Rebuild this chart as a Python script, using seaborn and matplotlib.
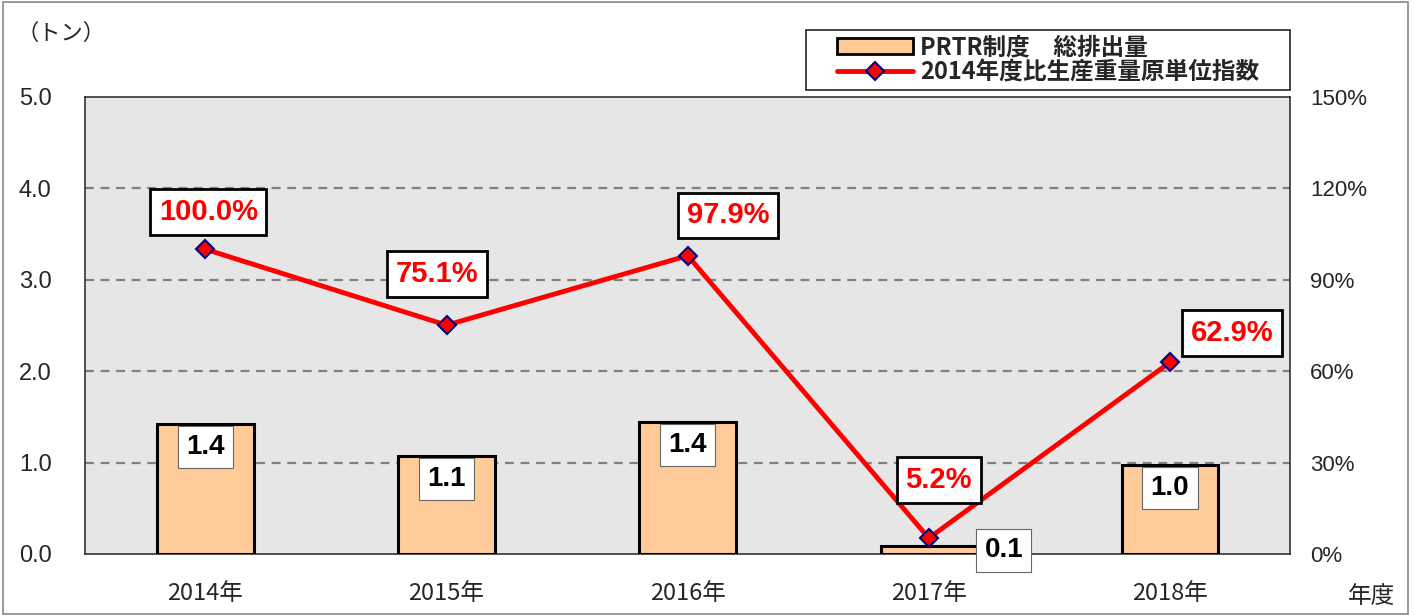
import matplotlib
matplotlib.use("Agg")
import matplotlib.pyplot as plt
import seaborn as sns
import pandas as pd
from matplotlib.patches import Patch, Rectangle
from matplotlib.lines import Line2D

# data
years = ["2014年", "2015年", "2016年", "2017年", "2018年"]
emission = [1.42, 1.07, 1.44, 0.09, 0.97]          # PRTR total emission (t)
emission_labels = ["1.4", "1.1", "1.4", "0.1", "1.0"]
ratio = [100.0, 75.1, 97.9, 5.2, 62.9]              # index vs 2014 (%)
legend_labels = ["PRTR制度　総排出量", "2014年度比生産重量原単位指数"]

df = pd.DataFrame({"year": years, "emission": emission, "ratio": ratio})

sns.set_theme(style="white")
plt.rcParams["font.family"] = ["Liberation Sans", "Noto Sans CJK JP", "DejaVu Sans"]
JP = ["Noto Sans CJK JP", "DejaVu Sans"]
SANS = ["Liberation Sans", "DejaVu Sans"]

fig = plt.figure(figsize=(14.15, 6.15), dpi=100)
ax = fig.add_axes([0.060, 0.0992, 0.852, 0.7432])
ax.set_facecolor("#e6e6e6")

sns.barplot(data=df, x="year", y="emission", ax=ax, color="#ffcc99",
            edgecolor="black", linewidth=2.2, width=0.4, saturation=1, zorder=3)

ax.set_ylim(0, 5)
ax.set_yticks([0, 1, 2, 3, 4, 5])
ax.set_yticklabels([f"{v:.1f}" for v in range(6)], fontsize=17)
ax.set_xlabel("")
ax.set_ylabel("")
ax.set_xticklabels(years, fontsize=17, family=JP)
ax.tick_params(axis="x", length=0, pad=20)
ax.tick_params(axis="y", length=0, pad=24)
ax.set_xticks([0.5, 1.5, 2.5, 3.5], minor=True)
ax.tick_params(axis="x", which="minor", direction="in", length=6, color="#444444")
for y in [1, 2, 3, 4]:
    ax.axhline(y, color="#808080", linestyle=(0, (4, 3)), linewidth=1.6, zorder=1)
for s in ax.spines.values():
    s.set_color("#333333")
    s.set_linewidth(1.2)

# bar value labels
bar_off = [(0, -7), (0, -7), (0, -7), (54, 6), (0, -7)]
for i, (v, lab) in enumerate(zip(emission, emission_labels)):
    dx, dy = bar_off[i]
    ax.annotate(lab, xy=(i, v), xytext=(dx, dy), textcoords="offset points",
                ha="center", va="top", fontsize=20, fontweight="bold", family=SANS,
                color="black", zorder=6,
                bbox=dict(boxstyle="square,pad=0.3", fc="white", ec="#666666", lw=0.8))

# line on secondary axis
ax2 = ax.twinx()
sns.pointplot(data=df, x="year", y="ratio", ax=ax2, color="red", markers="D",
              linestyles="-", errorbar=None)
for ln in ax2.lines:
    ln.set_linewidth(3.5)
    ln.set_markersize(9)
    ln.set_markerfacecolor("red")
    ln.set_markeredgecolor("#000080")
    ln.set_markeredgewidth(1.5)
for c in ax2.collections:
    c.set_sizes([90])
    c.set_facecolor("red")
    c.set_edgecolor("#000080")
ax2.set_ylim(0, 150)
ax2.set_yticks([0, 30, 60, 90, 120, 150])
ax2.set_yticklabels([f"{v}%" for v in [0, 30, 60, 90, 120, 150]], fontsize=16, family=SANS)
ax2.tick_params(axis="y", length=0, pad=14)
ax2.set_ylabel("")
ax2.set_xlabel("")
ax2.grid(False)
for s in ax2.spines.values():
    s.set_visible(False)

line_off = [(2, 27), (-7, 37), (29, 29), (7, 42), (45, 21)]
for i, v in enumerate(ratio):
    dx, dy = line_off[i]
    ax2.annotate(f"{v:.1f}%", xy=(i, v), xytext=(dx, dy), textcoords="offset points",
                 ha="center", va="center", fontsize=21, fontweight="bold", family=SANS,
                 color="red", zorder=7,
                 bbox=dict(boxstyle="square,pad=0.3", fc="white", ec="black", lw=2))

# legend: frame drawn separately, entries centred inside it
fig.patches.append(Rectangle((806 / 1415, 1 - 90 / 615), 484 / 1415, 60 / 615,
                             transform=fig.transFigure, fc="white", ec="#222222", lw=1.2))
handles = [Patch(facecolor="#ffcc99", edgecolor="black", linewidth=2),
           Line2D([0], [0], color="red", lw=3.5, marker="D", markersize=9,
                  markerfacecolor="red", markeredgecolor="#000080", markeredgewidth=1.5)]
fig.legend(handles, legend_labels, loc="center", bbox_to_anchor=(1048 / 1415, 1 - 60 / 615),
           frameon=False, borderpad=0, handlelength=3.2, handletextpad=0.3,
           labelspacing=0.05, prop={"family": JP, "size": 17, "weight": "bold"})

fig.text(0.012, 0.945, "（トン）", fontsize=16, family=JP, va="center", ha="left")
fig.text(0.986, 0.030, "年度", fontsize=17, family=JP, va="center", ha="right")

# outer frame
fig.patches.append(Rectangle((0.002, 0.002), 0.993, 0.994, transform=fig.transFigure,
                             fill=False, ec="#888888", lw=1.2))

fig.savefig("out.png", dpi=100)
